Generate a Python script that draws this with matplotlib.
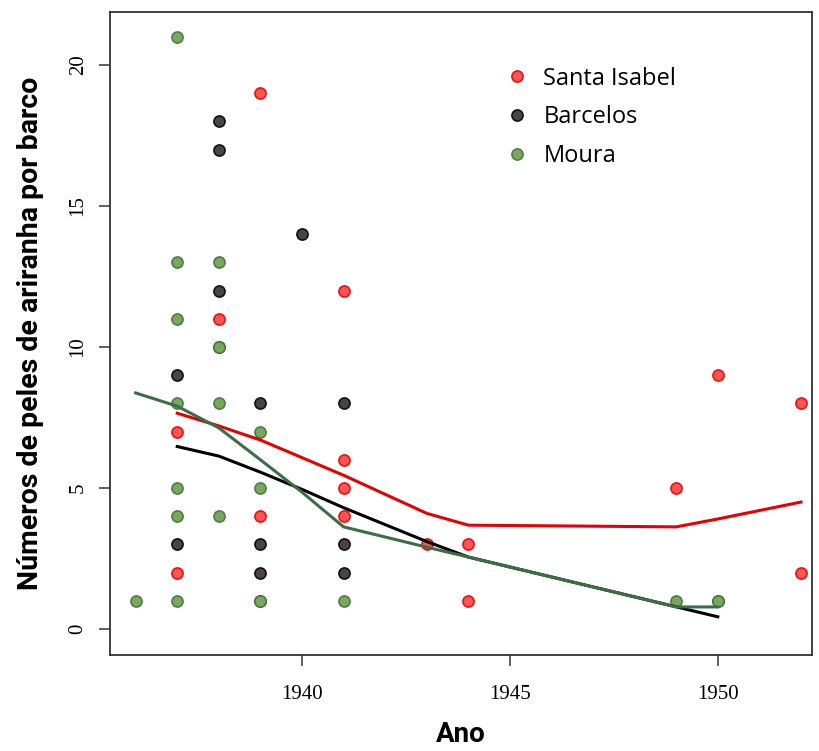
import matplotlib
matplotlib.use("Agg")
from matplotlib import pyplot as plt

# pontos (ano, peles por barco)
si_anos = [1937, 1937, 1938, 1939, 1939, 1941, 1941, 1941, 1941, 1943, 1944, 1944, 1949, 1950, 1952, 1952]
si_vals = [7, 2, 11, 19, 4, 12, 6, 5, 4, 3, 3, 1, 5, 9, 8, 2]

ba_anos = [1937, 1937, 1938, 1938, 1938, 1938, 1939, 1939, 1939, 1939, 1940, 1941, 1941, 1941, 1950]
ba_vals = [9, 3, 18, 17, 12, 10, 8, 3, 2, 1, 14, 8, 3, 2, 1]

mo_anos = [1936, 1937, 1937, 1937, 1937, 1937, 1937, 1937, 1938, 1938, 1938, 1938, 1939, 1939, 1939, 1941, 1949, 1950]
mo_vals = [1, 21, 13, 11, 8, 5, 4, 1, 13, 10, 8, 4, 7, 5, 1, 1, 1, 1]

# curvas suavizadas
si_lx = [1937, 1938, 1939, 1941, 1943, 1944, 1949, 1950, 1952]
si_ly = [7.65, 7.2, 6.7, 5.45, 4.1, 3.68, 3.62, 3.9, 4.5]
ba_lx = [1937, 1938, 1939, 1940, 1941, 1943, 1944, 1950]
ba_ly = [6.47, 6.13, 5.56, 4.95, 4.3, 3.1, 2.55, 0.43]
mo_lx = [1936, 1937, 1938, 1939, 1940, 1941, 1943, 1944, 1949, 1950]
mo_ly = [8.37, 7.9, 7.13, 6.0, 4.85, 3.62, 2.9, 2.55, 0.78, 0.78]

fig = plt.figure(figsize=(8.2, 7.51), dpi=100)
ax = fig.add_axes([0.134, 0.128, 0.856, 0.856])

ms = 8
ax.plot(si_anos, si_vals, "o", ms=ms, mfc="#ff5555", mec="#f01010", mew=1.2, label="Santa Isabel", zorder=3)
ax.plot(ba_anos, ba_vals, "o", ms=ms, mfc="#4d4343", mec="#111111", mew=1.2, label="Barcelos", zorder=3)
ax.plot(mo_anos, mo_vals, "o", ms=ms, mfc="#78a85e", mec="#4f7d45", mew=1.2, label="Moura", zorder=3)

ax.plot(si_lx, si_ly, color="#e60000", lw=2.2, zorder=4)
ax.plot(ba_lx, ba_ly, color="#000000", lw=2.2, zorder=4)
ax.plot(mo_lx, mo_ly, color="#3b6e47", lw=2.2, zorder=5)

ax.set_xlim(1935.38, 1952.26)
ax.set_ylim(-0.92, 21.88)
ax.set_xticks([1940, 1945, 1950])
ax.set_yticks([0, 5, 10, 15, 20])

for s in ax.spines.values():
    s.set_color("#333333")
    s.set_linewidth(1.3)

ax.tick_params(axis="both", direction="out", length=8, width=1.2, color="#444444")
for lab in ax.get_xticklabels():
    lab.set_fontfamily("Liberation Serif")
    lab.set_fontsize(15)
for lab in ax.get_yticklabels():
    lab.set_fontfamily("Liberation Serif")
    lab.set_fontsize(15)
    lab.set_rotation(90)
    lab.set_va("center")
ax.tick_params(axis="x", pad=14)
ax.tick_params(axis="y", pad=8)

ax.set_xlabel("Ano", fontsize=20, fontweight="bold", family="Roboto", labelpad=12)
ax.set_ylabel("Números de peles de ariranha por barco", fontsize=20.5, fontweight="bold",
              family="Roboto", labelpad=18)

ax.legend(loc="upper left", bbox_to_anchor=(0.53, 0.948), frameon=False,
          prop={"family": "Open Sans", "size": 17},
          handletextpad=0.5, labelspacing=0.62, handlelength=1.2)

plt.savefig("out.png")
